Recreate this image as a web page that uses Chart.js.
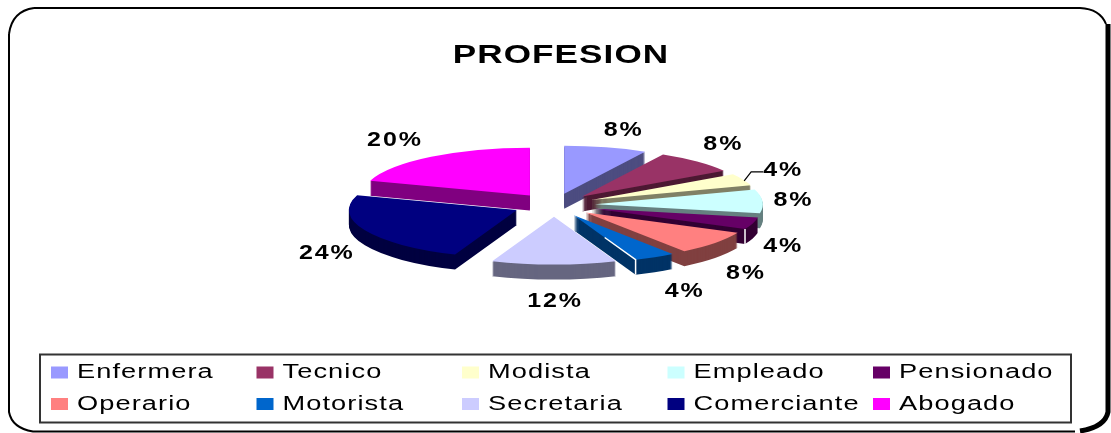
<!DOCTYPE html>
<html>
<head>
<meta charset="utf-8">
<style>html,body{margin:0;padding:0;background:#fff}#w{width:1111px;height:433px;position:relative;overflow:hidden}canvas{display:block;filter:blur(0.4px)}</style>
<script src="https://cdn.jsdelivr.net/npm/chart.js@4/dist/chart.umd.min.js"></script>
</head>
<body>
<div id="w"><canvas id="c" width="1111" height="433"></canvas></div>
<script>
const titleText = "PROFESION";
const categories = ["Enfermera","Tecnico","Modista","Empleado","Pensionado","Operario","Motorista","Secretaria","Comerciante","Abogado"];
const percentValues = [8,8,4,8,4,8,4,12,24,20];
const sliceColors = ["#9999ff","#993366","#ffffcc","#ccffff","#660066","#ff8080","#0066cc","#ccccff","#000080","#ff00ff"];
const wallColors = ["#4d4d80","#4d1933","#808066","#668080","#330033","#804040","#003366","#666680","#000040","#800080"];
// per-label nudges from the radial placement
const labelNudgeX = [10,5,12,0,1,7,15,1,-10,-18];
const labelNudgeY = [1,-4,-1,0,12,8,3,1,8,-1];
const seamSlices = ["Pensionado","Motorista"];

const TILT = 0.285, DEPTH = 15, EXPLODE = 41;

function stretchedText(ctx, text, x, y, font, align, sx, spacing) {
  ctx.save();
  ctx.font = font; ctx.fillStyle = "#000"; ctx.textAlign = align; ctx.textBaseline = "middle";
  ctx.letterSpacing = spacing + "px";
  ctx.translate(x, y); ctx.scale(sx, 1);
  ctx.fillText(text, 0, 0);
  ctx.restore();
}

const pie3d = {
  id: "pie3d",
  beforeDatasetsDraw(chart) {
    const ctx = chart.ctx;
    const arcs = chart.getDatasetMeta(0).data;
    const cx = arcs[0].x, cy = arcs[0].y;
    const mid = i => (arcs[i].startAngle + arcs[i].endAngle) / 2;
    const order = arcs.map((a, i) => i).sort((p, q) => Math.sin(mid(p)) - Math.sin(mid(q)));
    order.forEach(i => {
      const arc = arcs[i], base = arc.options;
      const ex = Math.cos(mid(i)) * EXPLODE, ey = Math.sin(mid(i)) * EXPLODE;
      for (let d = DEPTH; d >= 0; d--) {
        ctx.save();
        ctx.translate(cx, cy + d);
        ctx.scale(1, TILT);
        ctx.translate(ex, ey);
        ctx.translate(-cx, -cy);
        arc.options = Object.assign({}, base, { backgroundColor: d === 0 ? sliceColors[i] : wallColors[i], borderWidth: 0, offset: 0 });
        arc.draw(ctx);
        ctx.restore();
      }
      arc.options = base;
      if (seamSlices.includes(categories[i])) {
        // pale seam on the front corner of the wedge
        const ax = cx + ex, ay = cy + ey * TILT;
        const rx = ax + Math.cos(arc.endAngle) * arc.outerRadius;
        const ry = ay + Math.sin(arc.endAngle) * arc.outerRadius * TILT;
        ctx.save();
        ctx.strokeStyle = "#fff"; ctx.lineWidth = 1.5;
        ctx.beginPath();
        if (categories[i] === "Motorista") { ctx.moveTo(rx + (ax - rx) * 0.5, ry + (ay - ry) * 0.5); ctx.lineTo(rx, ry); }
        else ctx.moveTo(rx, ry);
        ctx.lineTo(rx, ry + DEPTH);
        ctx.stroke();
        ctx.restore();
      }
    });
    return false;
  },
  afterDraw(chart) {
    const ctx = chart.ctx;
    const arcs = chart.getDatasetMeta(0).data;
    // frame
    ctx.save();
    ctx.strokeStyle = "#000"; ctx.lineWidth = 2;
    ctx.beginPath();
    ctx.moveTo(34, 8); ctx.lineTo(1080, 8);
    ctx.quadraticCurveTo(1100, 9, 1106, 24);
    ctx.moveTo(9, 34); ctx.lineTo(9, 412);
    ctx.quadraticCurveTo(12, 428, 33, 431.5); ctx.lineTo(1075, 431.5);
    ctx.moveTo(34, 8); ctx.quadraticCurveTo(12, 11, 9, 34);
    ctx.stroke();
    ctx.lineWidth = 5;
    ctx.beginPath();
    ctx.moveTo(1108, 24); ctx.lineTo(1108, 412); ctx.quadraticCurveTo(1105, 427, 1080, 431);
    ctx.stroke();
    ctx.restore();
    // title
    stretchedText(ctx, titleText, 561, 55.5, "bold 26px 'Liberation Sans'", "center", 1.35, 0.8);
    // data labels
    arcs.forEach((arc, i) => {
      const m = (arc.startAngle + arc.endAngle) / 2;
      const s = Math.cos(m), c = -Math.sin(m);
      const lx = arc.x + 240 * s + labelNudgeX[i];
      const ly = arc.y - (c > 0 ? 78 : 95) * c + labelNudgeY[i];
      stretchedText(ctx, percentValues[i] + "%", lx, ly, "bold 20px 'Liberation Sans'", "center", 1.25, 1.5);
      if (categories[i] === "Modista") {
        ctx.save();
        ctx.strokeStyle = "#000"; ctx.lineWidth = 1.2;
        ctx.beginPath();
        ctx.moveTo(lx - 20, ly + 1); ctx.lineTo(lx - 32, ly + 1); ctx.lineTo(lx - 39, ly + 10);
        ctx.stroke();
        ctx.restore();
      }
    });
    // legend
    const boxL = 40, boxT = 354.5, boxW = 1031, boxH = 68;
    ctx.save();
    ctx.strokeStyle = "#333"; ctx.lineWidth = 2;
    ctx.strokeRect(boxL, boxT, boxW, boxH);
    ctx.restore();
    categories.forEach((name, i) => {
      const col = i % 5, row = Math.floor(i / 5);
      const x = 51 + col * 205.5, y = 372.5 + row * 31.5;
      ctx.fillStyle = sliceColors[i];
      ctx.fillRect(x, y - 6, 17, 12);
      stretchedText(ctx, name, x + 26, y, "20px 'Liberation Sans'", "left", 1.36, 0.8);
    });
  }
};

new Chart(document.getElementById("c"), {
  type: "pie",
  data: {
    labels: categories,
    datasets: [{
      data: percentValues,
      backgroundColor: sliceColors,
      borderWidth: 0
    }]
  },
  options: {
    responsive: false,
    animation: false,
    radius: 168,
    layout: { padding: { right: 3, bottom: 23 } },
    plugins: { legend: { display: false }, tooltip: { enabled: false } }
  },
  plugins: [pie3d]
});
</script>
</body>
</html>
